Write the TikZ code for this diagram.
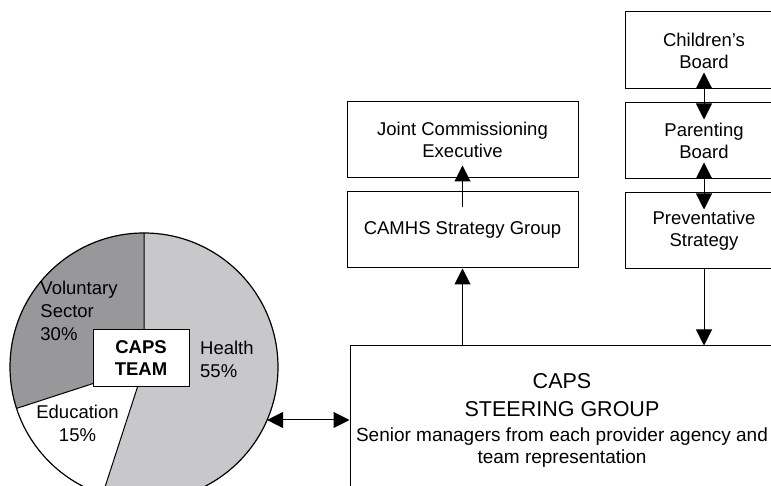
\documentclass[tikz,border=0pt]{standalone}
\usepackage{fontspec}
\setmainfont{Liberation Sans}
\usetikzlibrary{arrows.meta}
\usetikzlibrary{calc}

\definecolor{healthgray}{RGB}{200,200,202}
\definecolor{volgray}{RGB}{152,152,154}

\tikzset{
  box/.style={draw, line width=1pt, inner sep=0pt, align=center, font=\fontsize{18.5}{22}\selectfont},
  lbl/.style={inner sep=0pt, font=\fontsize{18.5}{23}\selectfont},
  tip/.style={-{Triangle[length=16pt,width=16pt]}, line width=1pt},
  both/.style={{Triangle[length=16pt,width=16pt]}-{Triangle[length=16pt,width=16pt]}, line width=1pt}
}

\begin{document}
\begin{tikzpicture}[x=1pt,y=1pt]
  \useasboundingbox (0,0) rectangle (771,486);
  \clip (0,0) rectangle (771,486);
  \coordinate (pc) at (144,119);
  \fill[healthgray] (pc) -- ++(90:134) arc[start angle=90,end angle=-108,radius=134] -- cycle;
  \fill[volgray] (pc) -- ++(90:134) arc[start angle=90,end angle=198,radius=134] -- cycle;
  \draw[line width=1.2pt] (pc) circle[radius=134];
  \draw[line width=1pt] (pc) -- ++(90:134) (pc) -- ++(-108:134) (pc) -- ++(198:134);
  \coordinate (pe) at ($(pc)+(-23.3:134)$);
  \node[box, fill=white, minimum width=96, minimum height=57, font=\fontsize{18.5}{22}\selectfont\bfseries] (team) at (141,127.5) {CAPS\\TEAM};
  \node[lbl, align=left] (vol) at (79,175) {Voluntary\\Sector\\30\%};
  \node[lbl, align=left, anchor=west] (health) at (200,127) {Health\\55\%};
  \node[lbl, align=center] (edu) at (77.5,63) {Education\\15\%};

  \node[box, minimum width=426, minimum height=160] (sg) at (563,60) {};
  \node[inner sep=0pt, align=center, font=\fontsize{21.5}{28}\selectfont] (sgtitle) at (562,91) {CAPS\\STEERING GROUP};
  \node[lbl, align=center, font=\fontsize{19}{22}\selectfont] (sgnote) at (562,38) {Senior managers from each provider agency and\\team representation};

  \node[box, minimum width=231, minimum height=76] (jce) at (462.5,346) {Joint Commissioning\\Executive};
  \node[box, minimum width=231, minimum height=76] (camhs) at (462.5,256) {CAMHS Strategy Group};

  \node[box, minimum width=158, minimum height=77] (child) at (704,435.5) {Children's\\Board};
  \node[box, minimum width=158, minimum height=76] (par) at (704,345) {Parenting\\Board};
  \node[box, minimum width=158, minimum height=76] (prev) at (704,255) {Preventative\\Strategy};

  \draw[both] (pe) -- (pe -| sg.west);
  \draw[tip] (camhs.south |- sg.north) -- (camhs.south);
  \draw[tip] ($(camhs.north)+(0,-16)$) -- ($(jce.south)+(0,13)$);
  \draw[tip] (prev.south) -- (prev.south |- sg.north);
  \draw[both] ($(child.south)+(0,17)$) -- ($(par.north)+(0,-17)$);
  \draw[both] ($(par.south)+(0,17)$) -- ($(prev.north)+(0,-17)$);
\end{tikzpicture}
\end{document}
